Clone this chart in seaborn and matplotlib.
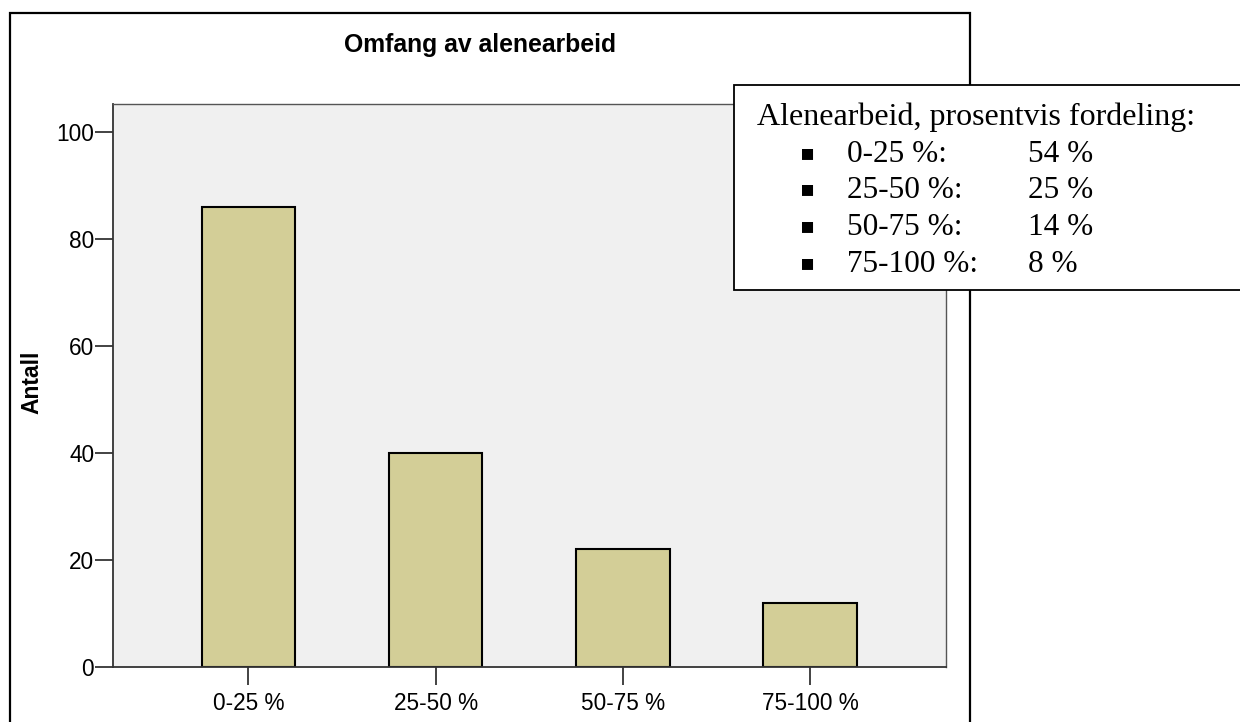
import matplotlib
matplotlib.use("Agg")
import matplotlib.pyplot as plt
import matplotlib.patches as mpatches
import seaborn as sns
import pandas as pd

# data
categories = ["0-25 %", "25-50 %", "50-75 %", "75-100 %"]
counts = [86, 40, 22, 12]
shares = [54, 25, 14, 8]
y_ticks = [0, 20, 40, 60, 80, 100]

df = pd.DataFrame({"Omfang": categories, "Antall": counts})

sns.set_theme(style="white")
plt.rcParams['font.family'] = ['Liberation Sans', 'DejaVu Sans']
plt.rcParams['text.color'] = 'black'
plt.rcParams['xtick.color'] = 'black'
plt.rcParams['ytick.color'] = 'black'

fig = plt.figure(figsize=(12.4, 7.22), dpi=100)
ax = fig.add_axes([113 / 1240, 1 - 667 / 722, (946 - 113) / 1240, (667 - 104) / 722])
ax.set_facecolor("#f0f0f0")

sns.barplot(data=df, x="Omfang", y="Antall", color="#d3ce97", width=0.5,
            edgecolor="black", linewidth=1.5, saturation=1, ax=ax)

ax.set_xlim(-0.724, 3.727)
ax.set_ylim(0, 105.2)
ax.set_yticks(y_ticks)
ax.tick_params(axis="both", which="both", length=13, width=1.2, color="#222222",
               labelsize=16.3, labelcolor="black", pad=0.5, left=True, bottom=True)
ax.tick_params(axis="x", pad=5)
ax.set_xlabel("")
ax.set_ylabel("")
for side in ["left", "bottom"]:
    ax.spines[side].set_color("#333333")
    ax.spines[side].set_linewidth(1.3)
for side in ["top", "right"]:
    ax.spines[side].set_color("#555555")
    ax.spines[side].set_linewidth(1.0)

# title and y label
fig.text(480 / 1240, 1 - 45 / 722, "Omfang av alenearbeid", ha="center", va="center",
         fontsize=17.8, fontweight="bold")
fig.text(32 / 1240, 1 - 382 / 722, "Antall", ha="center", va="center",
         fontsize=16.5, fontweight="bold", rotation=90)

# outer frame
fig.patches.append(mpatches.Rectangle((10 / 1240, -0.05), (970 - 10) / 1240, 1.05 - 13 / 722,
                                      transform=fig.transFigure, fill=False,
                                      edgecolor="black", linewidth=1.6))

# text box with percentage distribution
fig.patches.append(mpatches.Rectangle((734 / 1240, 1 - 290 / 722), 0.5, (290 - 85) / 722,
                                      transform=fig.transFigure, facecolor="white",
                                      edgecolor="black", linewidth=1.3, zorder=5))
serif = ['Liberation Serif', 'DejaVu Serif']
fig.text(757 / 1240, 1 - 125 / 722, "Alenearbeid, prosentvis fordeling:", family=serif,
         fontsize=23, va="baseline", ha="left", zorder=6)
baselines = [162, 198, 235, 272]
for cat, share, yb in zip(categories, shares, baselines):
    y = 1 - yb / 722
    fig.text(808 / 1240, y + 0.004, "\u25aa", family=['DejaVu Sans'], fontsize=16,
             va="baseline", ha="center", zorder=6)
    fig.text(847 / 1240, y, f"{cat}:", family=serif, fontsize=22.5, va="baseline",
             ha="left", zorder=6)
    fig.text(1028 / 1240, y, f"{share} %", family=serif, fontsize=22.5, va="baseline",
             ha="left", zorder=6)

fig.savefig("out.png", dpi=100)
